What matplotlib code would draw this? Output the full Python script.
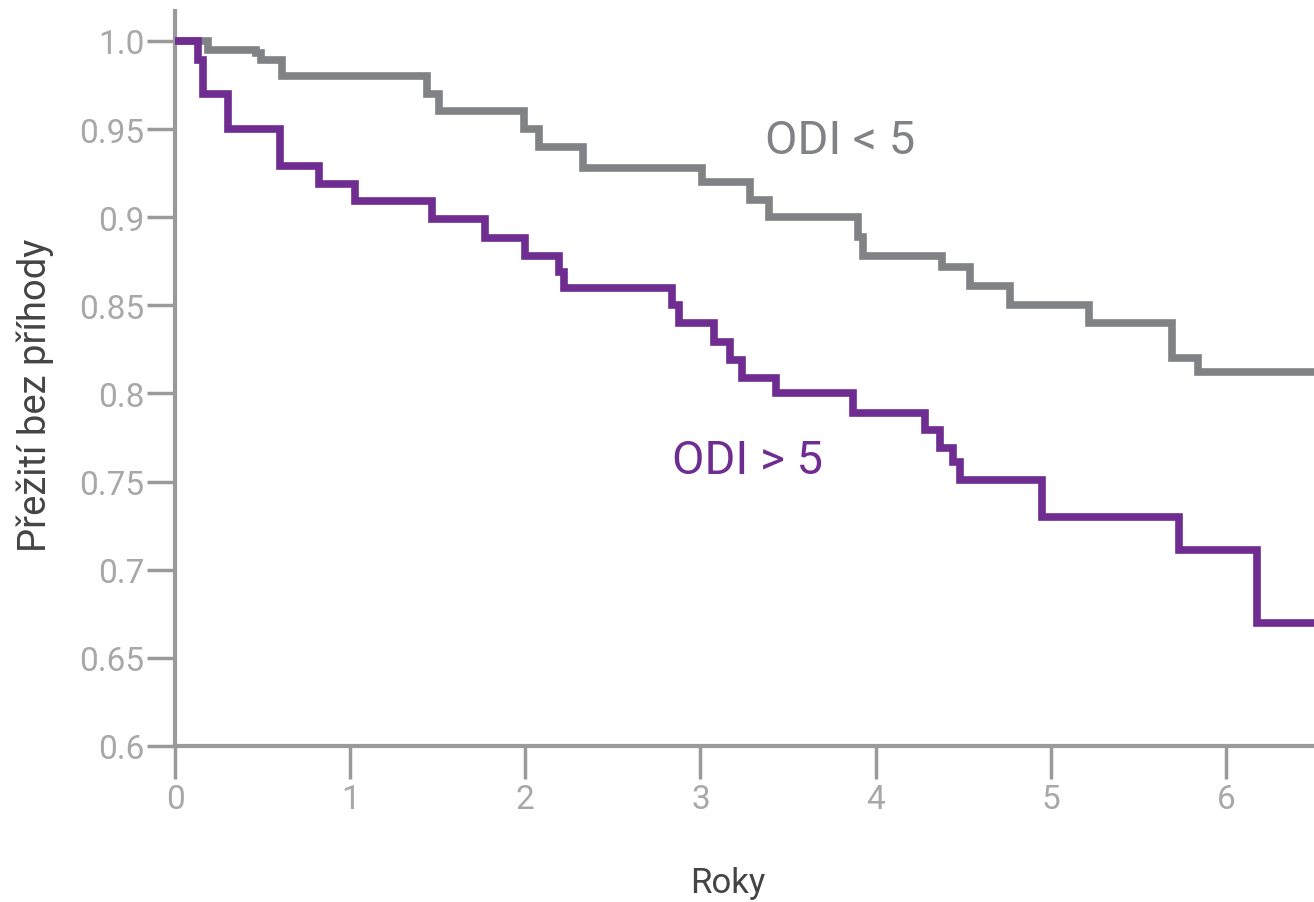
import matplotlib.pyplot as plt

# Kaplan-Meier style step data (years, survival)
t_low = [0, 0.19, 0.46, 0.49, 0.61, 1.44, 1.51, 1.99, 2.08, 2.33, 3.01, 3.28, 3.39,
         3.90, 3.93, 4.38, 4.54, 4.77, 5.22, 5.69, 5.84, 6.50]
s_low = [1.0, 0.995, 0.993, 0.989, 0.980, 0.970, 0.960, 0.950, 0.940, 0.928, 0.920, 0.910, 0.900,
         0.889, 0.878, 0.872, 0.861, 0.850, 0.840, 0.820, 0.812, 0.812]

t_high = [0, 0.13, 0.16, 0.30, 0.60, 0.82, 1.03, 1.47, 1.77, 2.00, 2.19, 2.22, 2.84, 2.88,
          3.08, 3.17, 3.24, 3.43, 3.87, 4.28, 4.37, 4.44, 4.48, 4.95, 5.73, 6.18, 6.50]
s_high = [1.0, 0.989, 0.970, 0.950, 0.929, 0.919, 0.909, 0.899, 0.888, 0.878, 0.869, 0.860, 0.850, 0.840,
          0.829, 0.819, 0.809, 0.800, 0.789, 0.779, 0.769, 0.761, 0.751, 0.730, 0.711, 0.670, 0.670]

yticks = [0.6, 0.65, 0.7, 0.75, 0.8, 0.85, 0.9, 0.95, 1.0]
ytick_labels = ["0.6", "0.65", "0.7", "0.75", "0.8", "0.85", "0.9", "0.95", "1.0"]
xticks = [0, 1, 2, 3, 4, 5, 6]

gray = "#808285"
purple = "#6f2c91"
axis_col = "#9a9a9a"
label_col = "#a8a8a8"

plt.rcParams['font.family'] = ['Roboto', 'DejaVu Sans']

fig = plt.figure(figsize=(13.14, 9.03), dpi=100)
ax = fig.add_axes([0.1332, 0.1728, 0.8668, 0.8139])

ax.step(t_low, s_low, where='post', color=gray, lw=5.5, zorder=2, solid_joinstyle='miter')
ax.step(t_high, s_high, where='post', color=purple, lw=5.5, zorder=3, solid_joinstyle='miter')

ax.set_xlim(0, 6.503)
ax.set_ylim(0.6, 1.017)

for side in ['top', 'right']:
    ax.spines[side].set_visible(False)
for side in ['left', 'bottom']:
    ax.spines[side].set_color(axis_col)
    ax.spines[side].set_linewidth(3)

ax.set_yticks(yticks)
ax.set_yticklabels(ytick_labels)
ax.set_xticks(xticks)
ax.tick_params(axis='y', length=20, width=2.5, color=axis_col, pad=2,
               labelsize=24, labelcolor=label_col)
ax.tick_params(axis='x', length=24, width=2.5, color=axis_col, pad=3,
               labelsize=24, labelcolor=label_col)

ax.set_xlabel("Roky", fontsize=25, color="#444444")
ax.xaxis.set_label_coords(0.485, -0.163)
ax.set_ylabel("Přežití bez příhody", fontsize=27.5, color="#444444")
ax.yaxis.set_label_coords(-0.106, 0.479)

ax.text(3.80, 0.944, "ODI < 5", fontsize=34, color=gray, ha='center', va='center')
ax.text(3.27, 0.762, "ODI > 5", fontsize=34, color=purple, ha='center', va='center')

fig.savefig("out.png", dpi=100)
